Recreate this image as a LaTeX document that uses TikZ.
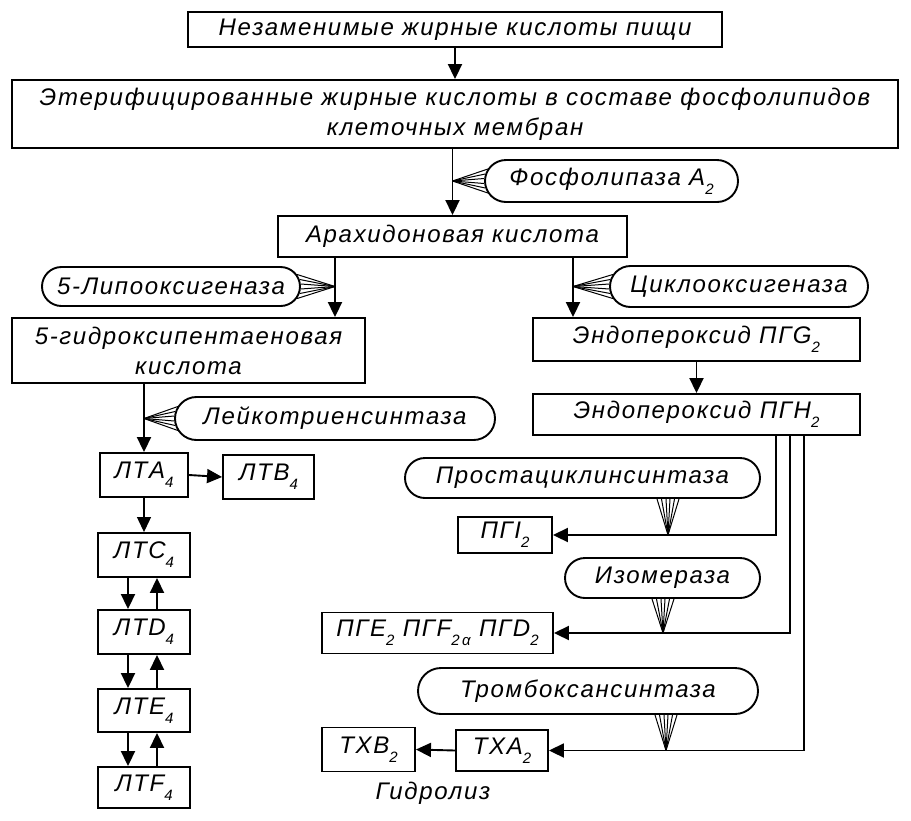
\documentclass[tikz,border=0pt]{standalone}
\usepackage{fontspec}
\setmainfont{Liberation Sans}[LetterSpace=7]
\usetikzlibrary{arrows.meta,shapes.misc,calc}
\newcommand\sub[1]{\raisebox{-0.38em}{\fontsize{15}{15}\selectfont #1}}
\tikzset{
  txt/.style={font=\fontsize{24}{30}\selectfont\itshape},
  box/.style 2 args={draw, line width=1.9pt, minimum width=#1pt, minimum height=#2pt, inner sep=0pt, align=center, txt},
  oval/.style 2 args={draw, rounded rectangle, line width=1.9pt, minimum width=#1pt, minimum height=#2pt, inner sep=0pt, txt},
  arr/.style={line width=1.9pt, -{Triangle[length=15pt,width=14pt]}},
  thinarr/.style={line width=1.1pt, -{Triangle[length=15pt,width=14pt]}},
  fan/.style={line width=1pt},
}
\newcommand\fanW[2]{\foreach \dy/\dx in {-12/3.8,-7/1.2,-2.5/0.15,2.5/0.15,7/1.2,12/3.8}{\draw[fan] (#1) -- ($(#2.west)+(\dx,\dy)$);}}
\newcommand\fanE[2]{\foreach \dy/\dx in {-12/3.8,-7/1.2,-2.5/0.15,2.5/0.15,7/1.2,12/3.8}{\draw[fan] (#1) -- ($(#2.east)+(-\dx,\dy)$);}}
\newcommand\fanS[2]{\foreach \dx in {-11,-6.5,-2,2,6.5,11}{\draw[fan] (#1) -- ($(#1|-#2.south)+(\dx,0)$);}}
\begin{document}
\begin{tikzpicture}[x=1pt,y=-1pt]
\useasboundingbox (0,0) rectangle (911,820);
% top
\node[box={534}{35}] (n1) at (455,29.5) {Незаменимые жирные кислоты пищи};
\node[box={886}{68}] (n2) at (455,114) {Этерифицированные жирные кислоты в составе фосфолипидов\\клеточных мембран};
\node[oval={253}{42}] (phos) at (611.5,181) {Фосфолипаза A\sub{2}};
\node[box={349}{41}] (arach) at (452.5,236.5) {Арахидоновая кислота};
\node[oval={258}{39}] (lipox) at (171,286.5) {5-Липооксигеназа};
\node[oval={258}{41}] (cycl) at (739,286.5) {Циклооксигеназа};
\node[box={353}{65}] (hpe) at (188.5,350.5) {5-гидроксипентаеновая\\кислота};
\node[box={327}{43}] (pgg) at (696.5,339.5) {Эндопероксид ПГG\sub{2}};
\node[box={327}{41}] (pgh) at (696.5,414.5) {Эндопероксид ПГH\sub{2}};
\node[oval={320}{43}] (leuk) at (335,418.5) {Лейкотриенсинтаза};
% leukotrienes
\node[box={88}{44}] (lta) at (144,475) {ЛТA\sub{4}};
\node[box={91}{44}] (ltb) at (268.5,477) {ЛТB\sub{4}};
\node[box={92}{44}] (ltc) at (144,555) {ЛТC\sub{4}};
\node[box={92}{44}] (ltd) at (144,632) {ЛТD\sub{4}};
\node[box={92}{43}] (lte) at (144,710.5) {ЛТE\sub{4}};
\node[box={92}{41}] (ltf) at (144,787.5) {ЛТF\sub{4}};
% prostanoids
\node[oval={355}{40}] (prc) at (582.5,478) {Простациклинсинтаза};
\node[box={94}{36}] (pgi) at (505,535) {ПГI\sub{2}};
\node[oval={195}{40}] (iso) at (662.5,578) {Изомераза};
\node[box={231}{41}] (pge) at (437.5,633) {ПГE\sub{2} ПГF\sub{2\,α} ПГD\sub{2}};
\node[oval={340}{46}] (trs) at (588,691) {Тромбоксансинтаза};
\node[box={92}{41}] (txa) at (502,750.5) {TXA\sub{2}};
\node[box={93}{44}] (txb) at (368.5,749.5) {TXB\sub{2}};
\node[txt] (hyd) at (433,793) {Гидролиз};
% connectors
\draw[arr] (n1.south) -- (n2.north);
\draw[arr] (n2.south -| arach.north) -- (arach.north);
\coordinate (t0) at (452.5,181);
\fanW{t0}{phos}
\draw[arr] ([xshift=-117.5pt]arach.south) -- ([xshift=-117.5pt]arach.south |- hpe.north);
\coordinate (t1) at (335,286.5);
\fanE{t1}{lipox}
\draw[arr] ([xshift=120.5pt]arach.south) -- ([xshift=120.5pt]arach.south |- pgg.north);
\coordinate (t2) at (573,286.5);
\fanW{t2}{cycl}
\draw[arr] (pgg.south) -- (pgh.north);
\draw[arr] (hpe.south -| lta.north) -- (lta.north);
\coordinate (t3) at (144,418.5);
\fanW{t3}{leuk}
\draw[arr] (lta.east) -- (ltb.west);
\draw[thinarr] (lta.south) -- (ltc.north);
\foreach \a/\b in {ltc/ltd,ltd/lte,lte/ltf}{
  \draw[arr] ([xshift=-16pt]\a.south) -- ([xshift=-16pt]\b.north);
  \draw[arr] ([xshift=13pt]\b.north) -- ([xshift=13pt]\a.south);
}
\draw[arr] ([xshift=79.5pt]pgh.south) |- (pgi.east);
\draw[arr] ([xshift=93.5pt]pgh.south) |- (pge.east);
\draw[arr] ([xshift=107.5pt]pgh.south) |- (txa.east);
\draw[arr] (txa.west) -- (txb.east);
\coordinate (t4) at (668,535);
\fanS{t4}{prc}
\coordinate (t5) at (663,633);
\fanS{t5}{iso}
\coordinate (t6) at (666,750.5);
\fanS{t6}{trs}
\end{tikzpicture}
\end{document}
